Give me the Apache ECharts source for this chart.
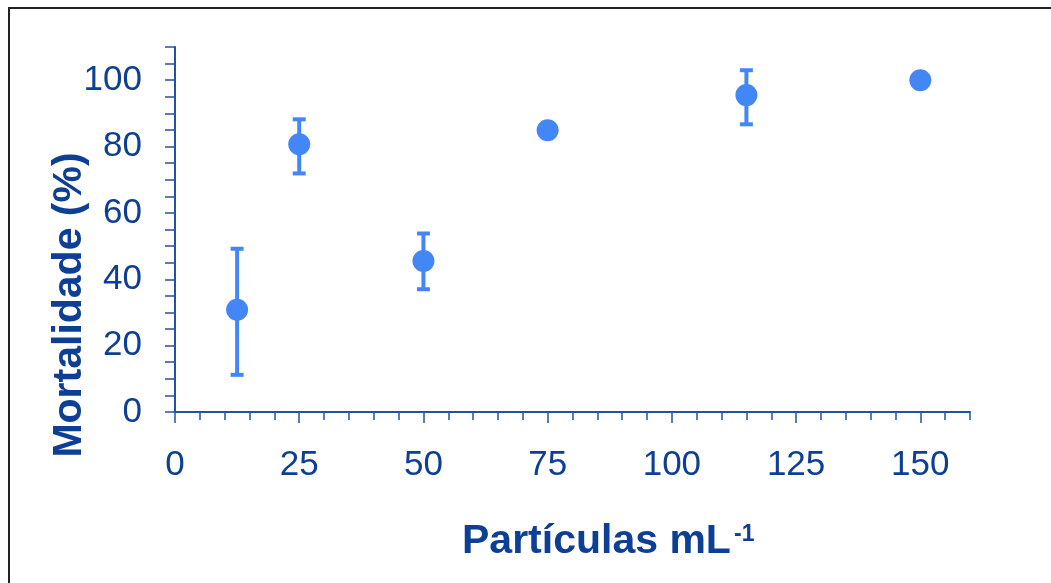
<!DOCTYPE html>
<html>
<head>
<meta charset="utf-8">
<script src="https://cdn.jsdelivr.net/npm/echarts@6/dist/echarts.min.js"></script>
<style>
html,body{margin:0;padding:0;background:#fff;}
#c{width:1051px;height:583px;}
</style>
</head>
<body>
<div id="c"></div>
<script>
// ---- data ----
const xValues   = [12.5, 25, 50, 75, 115, 150];
const mortality = [30.8, 80.7, 45.5, 84.9, 95.5, 100];
const errLow    = [11.2, 71.9, 37.0, null, 86.7, null];
const errHigh   = [49.2, 88.2, 53.8, null, 103.0, null];
const xTickLabels = [0, 25, 50, 75, 100, 125, 150];
const yTickLabels = [0, 20, 40, 60, 80, 100];
const xTitle = 'Partículas mL';
const xTitleSup = '-1';
const yTitle = 'Mortalidade (%)';

const pointColor = '#4287f5';
const textColor = '#0d3f94';
const axisColor = '#2452a3';
const font = '"Liberation Sans", Arial, sans-serif';

const points = xValues.map((x, i) => [x, mortality[i]]);
const errData = [];
xValues.forEach((x, i) => {
  if (errLow[i] != null) errData.push([x, errLow[i], errHigh[i]]);
});

const chart = echarts.init(document.getElementById('c'), null, {renderer: 'canvas'});
chart.setOption({
  animation: false,
  backgroundColor: '#fff',
  grid: {left: 175, right: 81, top: 47, bottom: 171, containLabel: false},
  xAxis: [{
    type: 'value', min: 0, max: 160, interval: 5,
    splitLine: {show: false},
    axisLine: {show: true, onZero: false, lineStyle: {color: axisColor, width: 2}},
    axisTick: {show: true, inside: false, length: 8, lineStyle: {color: axisColor, width: 1.5}},
    axisLabel: {show: false}
  }, {
    type: 'value', min: 0, max: 160, position: 'bottom',
    splitLine: {show: false},
    axisLine: {show: false, onZero: false},
    axisTick: {show: true, length: 11, customValues: xTickLabels, lineStyle: {color: axisColor, width: 1.5}},
    axisLabel: {show: true, customValues: xTickLabels, margin: 36, color: textColor, fontSize: 35, fontFamily: font}
  }],
  yAxis: [{
    type: 'value', min: 0, max: 110, interval: 5,
    splitLine: {show: false},
    axisLine: {show: true, onZero: false, lineStyle: {color: axisColor, width: 2}},
    axisTick: {show: true, inside: false, length: 10, lineStyle: {color: axisColor, width: 1.5}},
    axisLabel: {show: true, customValues: yTickLabels, margin: 33, color: textColor, fontSize: 35, fontFamily: font}
  }],
  graphic: [
    {type: 'line', shape: {x1: 8, y1: 8, x2: 1051, y2: 8}, style: {stroke: '#222', lineWidth: 2}, silent: true},
    {type: 'line', shape: {x1: 9, y1: 7, x2: 9, y2: 583}, style: {stroke: '#222', lineWidth: 2}, silent: true},
    {type: 'text', x: 462, y: 542, style: {text: xTitle, font: 'bold 41px ' + font, fill: textColor, textAlign: 'left', textVerticalAlign: 'middle'}},
    {type: 'text', x: 734, y: 535, style: {text: xTitleSup, font: 'bold 23px ' + font, fill: textColor, textAlign: 'left', textVerticalAlign: 'middle'}},
    {type: 'text', x: 70, y: 305, rotation: Math.PI / 2, style: {text: yTitle, font: 'bold 41px ' + font, fill: textColor, textAlign: 'center', textVerticalAlign: 'middle'}}
  ],
  series: [{
    type: 'custom',
    xAxisIndex: 0, yAxisIndex: 0,
    data: errData,
    z: 2,
    renderItem: function (params, api) {
      const x = api.value(0);
      const lo = api.coord([x, api.value(1)]);
      const hi = api.coord([x, api.value(2)]);
      const hw = 6.5;
      const st = {stroke: pointColor, lineWidth: 4};
      return {
        type: 'group',
        children: [
          {type: 'line', shape: {x1: lo[0], y1: lo[1], x2: hi[0], y2: hi[1]}, style: st},
          {type: 'line', shape: {x1: lo[0] - hw, y1: lo[1], x2: lo[0] + hw, y2: lo[1]}, style: st},
          {type: 'line', shape: {x1: hi[0] - hw, y1: hi[1], x2: hi[0] + hw, y2: hi[1]}, style: st}
        ]
      };
    }
  }, {
    type: 'scatter',
    xAxisIndex: 0, yAxisIndex: 0,
    data: points,
    symbol: 'circle',
    symbolSize: 22,
    itemStyle: {color: pointColor, opacity: 1},
    z: 3
  }]
});
</script>
</body>
</html>
